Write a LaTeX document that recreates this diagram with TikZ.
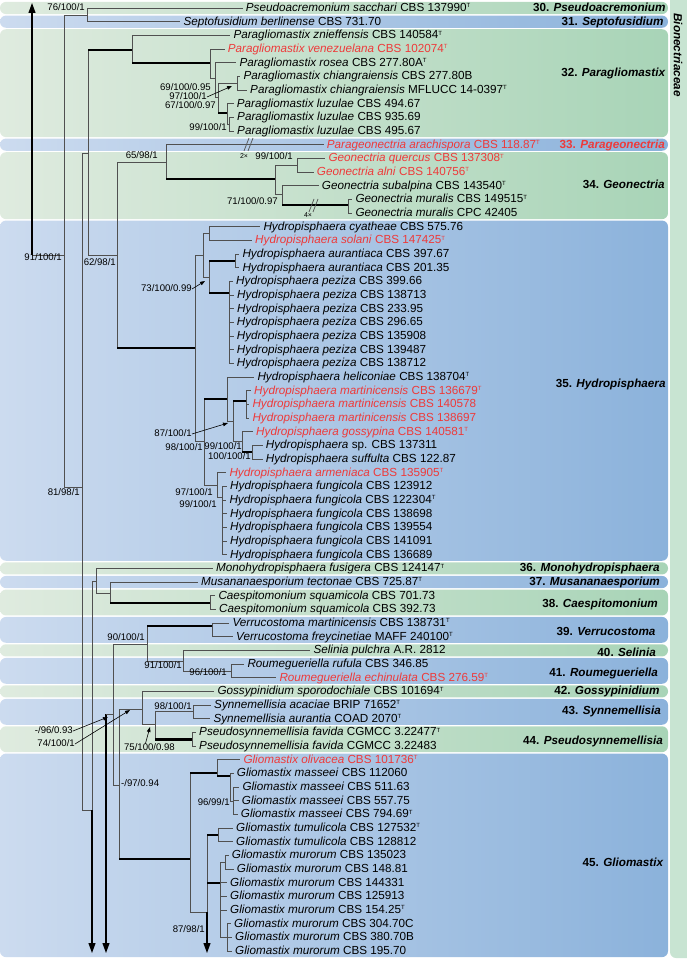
\documentclass[tikz,border=0pt]{standalone}
\usepackage{fontspec}
\setmainfont{Liberation Sans}
\usepackage{xcolor}
\usepackage{tikz}
\usetikzlibrary{arrows.meta}

\definecolor{grnL}{HTML}{DFEBDF}
\definecolor{grnR}{HTML}{A8D4B7}
\definecolor{bluL}{HTML}{CCDBEF}
\definecolor{bluR}{HTML}{8BB2DB}
\definecolor{famgreen}{HTML}{C8E4D2}
\definecolor{redtx}{HTML}{EE3A3A}
\definecolor{brgray}{HTML}{505050}

% type-strain mark
\newcommand\Ty{\raisebox{3.6pt}{\fontsize{6}{6}\selectfont T}}
% y of a tree row
\newcommand\ry[1]{8+13.667*(#1-1)}
\newcommand\leaf[4][black]{\node[leaf, text=#1] (l#2) at ({#3-3}, {\ry{#2}}) {#4};}
\newcommand\band[3]{\shade[rounded corners=6pt, left color=#3L, right color=#3R] (0, {\ry{#1}-6.1}) rectangle (668, {\ry{#2}+6.1});}
\newcommand\br[2]{\draw[branch] (#1) |- (#2);}
\newcommand\tbr[2]{\draw[branch] (#1) -- (#1 |- #2); \draw[thickbranch] (#1 |- #2) -- (#2);}

\begin{document}
\begin{tikzpicture}[
    x=1pt, y=-1pt,
    % Define the style for the strain labels
    leaf/.style={
        anchor=west,
        inner xsep=3pt,
        inner ysep=0pt,
        text height=9pt,
        text depth=2pt,
        font=\fontsize{11.7}{13}\selectfont
    },
    % Define the style for the genus labels
    genus/.style={
        anchor=east,
        inner sep=0pt,
        text height=9pt,
        text depth=2pt,
        font=\fontsize{11.7}{13}\selectfont\bfseries
    },
    % Define the style for support values
    supp/.style={
        anchor=east,
        inner sep=0pt,
        text height=7pt,
        text depth=1.5pt,
        font=\fontsize{9.6}{11}\selectfont
    },
    % Define styles for branches and arrows
    branch/.style={brgray, line width=0.9pt},
    thickbranch/.style={black, line width=2.8pt},
    bigarrow/.style={-{Triangle[length=10pt,width=7pt]}, black, line width=1.1pt},
    pointer/.style={-{Triangle[length=5pt,width=3.6pt]}, black, line width=0.6pt}
]
\useasboundingbox (0,0) rectangle (687,960);

% 1. Background bands
\band{1}{1}{grn}
\band{2}{2}{blu}
\band{3}{10}{grn}
\band{11}{11}{blu}
\band{12}{16}{grn}
\band{17}{41}{blu}
\band{42}{42}{grn}
\band{43}{43}{blu}
\band{44}{45}{grn}
\band{46}{47}{blu}
\band{48}{48}{grn}
\band{49}{50}{blu}
\band{51}{51}{grn}
\band{52}{53}{blu}
\band{54}{55}{grn}
\band{56}{70}{blu}
\fill[famgreen, rounded corners=6pt] (670,-8) rectangle (696,958);
\node[rotate=-90, font=\fontsize{11.7}{13}\selectfont\bfseries\itshape] (fam) at (678,55) {Bionectriaceae};

% 2. Genus labels
\node[genus] (g30) at (665.7,8) {30. \textit{Pseudoacremonium}};
\node[genus] (g31) at (663.7,21.7) {31. \textit{Septofusidium}};
\node[genus] (g32) at (665.7,73.3) {32. \textit{Paragliomastix}};
\node[genus, text=redtx] (g33) at (665,144.7) {33. \textit{Parageonectria}};
\node[genus] (g34) at (664.7,185.3) {34. \textit{Geonectria}};
\node[genus] (g35) at (665.7,384) {35. \textit{Hydropisphaera}};
\node[genus] (g36) at (659.7,568.3) {36. \textit{Monohydropisphaera}};
\node[genus] (g37) at (660,582) {37. \textit{Musananaesporium}};
\node[genus] (g38) at (658,604) {38. \textit{Caespitomonium}};
\node[genus] (g39) at (655.7,632) {39. \textit{Verrucostoma}};
\node[genus] (g40) at (656,652.7) {40. \textit{Selinia}};
\node[genus] (g41) at (658,673.3) {41. \textit{Roumegueriella}};
\node[genus] (g42) at (659.7,691) {42. \textit{Gossypinidium}};
\node[genus] (g43) at (661,711) {43. \textit{Synnemellisia}};
\node[genus] (g44) at (663,740.7) {44. \textit{Pseudosynnemellisia}};
\node[genus] (g45) at (663.7,862.7) {45. \textit{Gliomastix}};

% 3. Strains
\leaf{1}{245.7}{\textit{Pseudoacremonium sacchari} CBS 137990\Ty}
\leaf{2}{183.3}{\textit{Septofusidium berlinense} CBS 731.70}
\leaf{3}{233.3}{\textit{Paragliomastix znieffensis} CBS 140584\Ty}
\leaf[redtx]{4}{227.7}{\textit{Paragliomastix venezuelana} CBS 102074\Ty}
\leaf{5}{239.3}{\textit{Paragliomastix rosea} CBS 277.80A\Ty}
\leaf{6}{243.3}{\textit{Paragliomastix chiangraiensis} CBS 277.80B}
\leaf{7}{250}{\textit{Paragliomastix chiangraiensis} MFLUCC 14-0397\Ty}
\leaf{8}{236.7}{\textit{Paragliomastix luzulae} CBS 494.67}
\leaf{9}{237}{\textit{Paragliomastix luzulae} CBS 935.69}
\leaf{10}{237}{\textit{Paragliomastix luzulae} CBS 495.67}
\leaf[redtx]{11}{326.7}{\textit{Parageonectria arachispora} CBS 118.87\Ty}
\leaf[redtx]{12}{328.3}{\textit{Geonectria quercus} CBS 137308\Ty}
\leaf[redtx]{13}{316.7}{\textit{Geonectria alni} CBS 140756\Ty}
\leaf{14}{321.7}{\textit{Geonectria subalpina} CBS 143540\Ty}
\leaf{15}{355.3}{\textit{Geonectria muralis} CBS 149515\Ty}
\leaf{16}{355.3}{\textit{Geonectria muralis} CPC 42405}
\leaf{17}{263.3}{\textit{Hydropisphaera cyatheae} CBS 575.76}
\leaf[redtx]{18}{255}{\textit{Hydropisphaera solani} CBS 147425\Ty}
\leaf{19}{242.3}{\textit{Hydropisphaera aurantiaca} CBS 397.67}
\leaf{20}{242.3}{\textit{Hydropisphaera aurantiaca} CBS 201.35}
\leaf{21}{236}{\textit{Hydropisphaera peziza} CBS 399.66}
\leaf{22}{237}{\textit{Hydropisphaera peziza} CBS 138713}
\leaf{23}{237}{\textit{Hydropisphaera peziza} CBS 233.95}
\leaf{24}{236.7}{\textit{Hydropisphaera peziza} CBS 296.65}
\leaf{25}{236.7}{\textit{Hydropisphaera peziza} CBS 135908}
\leaf{26}{236.7}{\textit{Hydropisphaera peziza} CBS 139487}
\leaf{27}{236.7}{\textit{Hydropisphaera peziza} CBS 138712}
\leaf{28}{257.3}{\textit{Hydropisphaera heliconiae} CBS 138704\Ty}
\leaf[redtx]{29}{254}{\textit{Hydropisphaera martinicensis} CBS 136679\Ty}
\leaf[redtx]{30}{252.3}{\textit{Hydropisphaera martinicensis} CBS 140578}
\leaf[redtx]{31}{252.3}{\textit{Hydropisphaera martinicensis} CBS 138697}
\leaf[redtx]{32}{256}{\textit{Hydropisphaera gossypina} CBS 140581\Ty}
\leaf{33}{265.7}{\textit{Hydropisphaera} sp. CBS 137311}
\leaf{34}{265.7}{\textit{Hydropisphaera suffulta} CBS 122.87}
\leaf[redtx]{35}{229.3}{\textit{Hydropisphaera armeniaca} CBS 135905\Ty}
\leaf{36}{230}{\textit{Hydropisphaera fungicola} CBS 123912}
\leaf{37}{229.3}{\textit{Hydropisphaera fungicola} CBS 122304\Ty}
\leaf{38}{230}{\textit{Hydropisphaera fungicola} CBS 138698}
\leaf{39}{230}{\textit{Hydropisphaera fungicola} CBS 139554}
\leaf{40}{230}{\textit{Hydropisphaera fungicola} CBS 141091}
\leaf{41}{230}{\textit{Hydropisphaera fungicola} CBS 136689}
\leaf{42}{216}{\textit{Monohydropisphaera fusigera} CBS 124147\Ty}
\leaf{43}{201}{\textit{Musananaesporium tectonae} CBS 725.87\Ty}
\leaf{44}{218.3}{\textit{Caespitomonium squamicola} CBS 701.73}
\leaf{45}{219}{\textit{Caespitomonium squamicola} CBS 392.73}
\leaf{46}{232.3}{\textit{Verrucostoma martinicensis} CBS 138731\Ty}
\leaf{47}{236}{\textit{Verrucostoma freycinetiae} MAFF 240100\Ty}
\leaf{48}{313.3}{\textit{Selinia pulchra} A.R. 2812}
\leaf{49}{247.3}{\textit{Roumegueriella rufula} CBS 346.85}
\leaf[redtx]{50}{279.3}{\textit{Roumegueriella echinulata} CBS 276.59\Ty}
\leaf{51}{217.3}{\textit{Gossypinidium sporodochiale} CBS 101694\Ty}
\leaf{52}{214}{\textit{Synnemellisia acaciae} BRIP 71652\Ty}
\leaf{53}{213.3}{\textit{Synnemellisia aurantia} COAD 2070\Ty}
\leaf{54}{199}{\textit{Pseudosynnemellisia favida} CGMCC 3.22477\Ty}
\leaf{55}{199}{\textit{Pseudosynnemellisia favida} CGMCC 3.22483}
\leaf[redtx]{56}{243.3}{\textit{Gliomastix olivacea} CBS 101736\Ty}
\leaf{57}{236.7}{\textit{Gliomastix masseei} CBS 112060}
\leaf{58}{242.3}{\textit{Gliomastix masseei} CBS 511.63}
\leaf{59}{241.7}{\textit{Gliomastix masseei} CBS 557.75}
\leaf{60}{240.7}{\textit{Gliomastix masseei} CBS 794.69\Ty}
\leaf{61}{236}{\textit{Gliomastix tumulicola} CBS 127532\Ty}
\leaf{62}{236}{\textit{Gliomastix tumulicola} CBS 128812}
\leaf{63}{231.7}{\textit{Gliomastix murorum} CBS 135023}
\leaf{64}{236.7}{\textit{Gliomastix murorum} CBS 148.81}
\leaf{65}{230}{\textit{Gliomastix murorum} CBS 144331}
\leaf{66}{230}{\textit{Gliomastix murorum} CBS 125913}
\leaf{67}{230}{\textit{Gliomastix murorum} CBS 154.25\Ty}
\leaf{68}{234}{\textit{Gliomastix murorum} CBS 304.70C}
\leaf{69}{235}{\textit{Gliomastix murorum} CBS 380.70B}
\leaf{70}{235}{\textit{Gliomastix murorum} CBS 195.70}

% 4. Internal nodes
\coordinate (nTop) at (32,255);
\coordinate (aTop) at (32,3);
\coordinate (n91) at (64,255);
\coordinate (n76) at (87,15);
\coordinate (n81) at (82,487);
\coordinate (nA) at (88,153);
\coordinate (nPar) at (132,50);
\coordinate (nPar2) at (210,63);
\coordinate (n69) at (215,78);
\coordinate (n97) at (218,97);
\coordinate (nChi) at (237,83);
\coordinate (nLuz) at (227,113);
\coordinate (n99a) at (229,124);
\coordinate (n62) at (117,255);
\coordinate (n65) at (166,162);
\coordinate (nGeo) at (275,179);
\coordinate (n99b) at (297,165);
\coordinate (n71) at (282,194);
\coordinate (nMur) at (348,205);
\coordinate (nHyd) at (195,348);
\coordinate (n203) at (203,255);
\coordinate (nCy) at (209,233);
\coordinate (n73) at (209,277);
\coordinate (nAur) at (235,261);
\coordinate (nPez) at (229,293);
\coordinate (n204) at (204,441);
\coordinate (nHel) at (227,399);
\coordinate (n87) at (233,421);
\coordinate (nMar) at (246,401);
\coordinate (n99c) at (242,441);
\coordinate (n100) at (252,452);
\coordinate (n97b) at (217,485);
\coordinate (nFun) at (222,497);
\coordinate (nB) at (92,810);
\coordinate (aB) at (92,953);
\coordinate (nMono) at (96,581);
\coordinate (nMus) at (110,593);
\coordinate (nCae) at (210,603);
\coordinate (nC) at (106,714);
\coordinate (aC) at (106,953);
\coordinate (n96) at (113,714);
\coordinate (n90) at (147,644);
\coordinate (nVer) at (212,626);
\coordinate (n91b) at (183,661);
\coordinate (n96b) at (231,671);
\coordinate (n97c) at (119,785);
\coordinate (n74) at (142,709);
\coordinate (n75) at (155,724);
\coordinate (n98) at (193,711);
\coordinate (nPsy) at (192,739.5);
\coordinate (nGlio) at (190,859);
\coordinate (nOli) at (217,773);
\coordinate (nMas) at (230,776);
\coordinate (n96c) at (233,801);
\coordinate (n87b) at (207,912);
\coordinate (aG) at (207,953);
\coordinate (nTum) at (218,835);
\coordinate (nMur2) at (220,883);
\coordinate (nM1) at (225,862);
\coordinate (nM2) at (227,937);

% 5. Branches
\draw[bigarrow] (nTop) -- (aTop);
\br{nTop}{n91}
\br{n91}{n76} \br{n91}{n81}
\br{n76}{l1} \br{n76}{l2}
\br{n81}{nA} \br{n81}{nB}
\tbr{nA}{nPar} \br{nA}{n62}
\br{nPar}{l3} \tbr{nPar}{nPar2}
\br{nPar2}{l4} \br{nPar2}{n69}
\br{n69}{l5} \br{n69}{n97}
\br{n97}{nChi} \tbr{n97}{nLuz}
\br{nChi}{l6} \br{nChi}{l7}
\br{nLuz}{l8} \br{nLuz}{n99a}
\br{n99a}{l9} \br{n99a}{l10}
\br{n62}{n65} \tbr{n62}{nHyd}
\br{n65}{l11} \tbr{n65}{nGeo}
\br{nGeo}{n99b} \br{nGeo}{n71}
\br{n99b}{l12} \br{n99b}{l13}
\br{n71}{l14} \tbr{n71}{nMur}
\br{nMur}{l15} \br{nMur}{l16}
\br{nHyd}{n203} \br{nHyd}{n204}
\br{n203}{nCy} \br{n203}{n73}
\br{nCy}{l17} \br{nCy}{l18}
\tbr{n73}{nAur} \tbr{n73}{nPez}
\br{nAur}{l19} \br{nAur}{l20}
\br{nPez}{l21} \br{nPez}{l22} \br{nPez}{l23} \br{nPez}{l24}
\br{nPez}{l25} \br{nPez}{l26} \br{nPez}{l27}
\tbr{n204}{nHel} \br{n204}{n97b}
\br{nHel}{l28} \br{nHel}{n87}
\tbr{n87}{nMar} \br{n87}{n99c}
\br{nMar}{l29} \br{nMar}{l30} \br{nMar}{l31}
\br{n99c}{l32} \tbr{n99c}{n100}
\br{n100}{l33} \br{n100}{l34}
\br{n97b}{l35} \br{n97b}{nFun}
\br{nFun}{l36} \br{nFun}{l37} \br{nFun}{l38}
\br{nFun}{l39} \br{nFun}{l40} \br{nFun}{l41}
\draw[bigarrow] (nB) -- (aB);
\br{nB}{nMono}
\br{nMono}{l42} \br{nMono}{nMus}
\br{nMus}{l43} \tbr{nMus}{nCae}
\br{nCae}{l44} \br{nCae}{l45}
\draw[bigarrow] (nC) -- (aC);
\draw[branch] (nC) -- (n96);
\br{n96}{n90} \br{n96}{n97c}
\tbr{n90}{nVer} \br{n90}{n91b}
\br{nVer}{l46} \br{nVer}{l47}
\br{n91b}{l48} \br{n91b}{n96b}
\br{n96b}{l49} \br{n96b}{l50}
\br{n97c}{n74} \tbr{n97c}{nGlio}
\br{n74}{l51} \br{n74}{n75}
\br{n75}{n98} \tbr{n75}{nPsy}
\br{n98}{l52} \br{n98}{l53}
\br{nPsy}{l54} \br{nPsy}{l55}
\tbr{nGlio}{nOli} \br{nGlio}{n87b}
\br{nOli}{l56} \tbr{nOli}{nMas}
\br{nMas}{l57} \br{nMas}{n96c}
\br{n96c}{l58} \br{n96c}{l59} \br{n96c}{l60}
\draw[bigarrow] (n87b) -- (aG);
\tbr{n87b}{nTum} \tbr{n87b}{nMur2}
\br{nTum}{l61} \br{nTum}{l62}
\br{nMur2}{nM1} \br{nMur2}{l65} \br{nMur2}{l66} \br{nMur2}{l67} \br{nMur2}{nM2}
\br{nM1}{l63} \br{nM1}{l64}
\br{nM2}{l68} \br{nM2}{l69} \br{nM2}{l70}

% branch breaks
\draw[branch, line width=0.7pt] (244,151) -- (249,138) (248,151) -- (253,138);
\node[font=\fontsize{7}{8}\selectfont, inner sep=0pt] (k2) at (244,156) {2×};
\draw[branch, line width=0.7pt] (309,212) -- (314,199) (313,212) -- (318,199);
\node[font=\fontsize{7}{8}\selectfont, inner sep=0pt] (k4) at (308,215) {4×};

% 6. Support values
\node[supp] (s76) at (85,8) {76/100/1};
\node[supp] (s91a) at (62,258) {91/100/1};
\node[supp] (s62) at (116,263) {62/98/1};
\node[supp] (s69) at (211,88) {69/100/0.95};
\node[supp] (s97a) at (207,97) {97/100/1};
\node[supp] (s67) at (216,106) {67/100/0.97};
\node[supp] (s99a) at (227,128) {99/100/1};
\node[supp] (s65) at (158,156) {65/98/1};
\node[supp] (s99b) at (293,157) {99/100/1};
\node[supp] (s71) at (278,202) {71/100/0.97};
\node[supp] (s73) at (192,289) {73/100/0.99};
\node[supp] (s87a) at (192,434) {87/100/1};
\node[supp] (s98a) at (203,448) {98/100/1};
\node[supp] (s99c) at (242,447) {99/100/1};
\node[supp] (s100) at (251,457) {100/100/1};
\node[supp] (s97b) at (213,493) {97/100/1};
\node[supp] (s99d) at (217,505) {99/100/1};
\node[supp] (s81) at (80,493) {81/98/1};
\node[supp] (s90) at (145,638) {90/100/1};
\node[supp] (s91b) at (182,666) {91/100/1};
\node[supp] (s96a) at (227,673) {96/100/1};
\node[supp] (s98b) at (192,707) {98/100/1};
\node[supp] (s96b) at (73,731) {-/96/0.93};
\node[supp] (s74) at (75,744) {74/100/1};
\node[supp] (s75) at (175,748) {75/100/0.98};
\node[supp, anchor=west] (s97c) at (121,784) {-/97/0.94};
\node[supp] (s96c) at (230,803) {96/99/1};
\node[supp] (s87b) at (205,930) {87/98/1};

% pointers from support values to their nodes
\coordinate (tChi) at (232,86);
\coordinate (t73) at (205,281);
\coordinate (t87) at (228,423);
\coordinate (t96) at (108,717);
\coordinate (t74) at (130,710);
\coordinate (t75) at (150,727);
\draw[pointer] (s97a.east) -- (tChi);
\draw[pointer] (s73.east) -- (t73);
\draw[pointer] (s87a.east) -- (t87);
\draw[pointer] (s96b.east) -- (t96);
\draw[pointer] (s74.east) -- (t74);
\draw[pointer] ([xshift=-4pt]s75.north) -- (t75);

\end{tikzpicture}
\end{document}
